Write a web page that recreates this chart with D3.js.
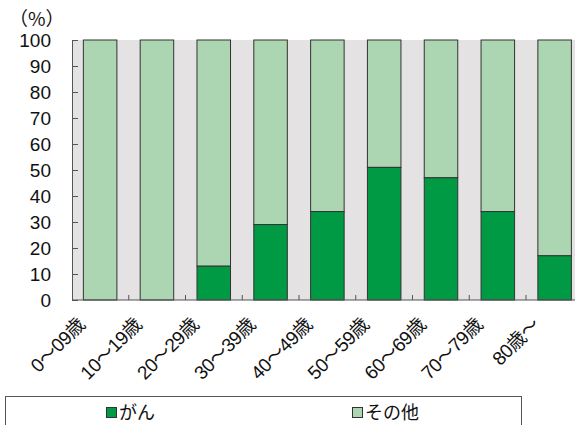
<!DOCTYPE html>
<html>
<head>
<meta charset="utf-8">
<script src="https://cdn.jsdelivr.net/npm/d3@7"></script>
<style>
body { margin: 0; background: #fff; }
text { font-family: "Liberation Sans", Arial, "Noto Sans CJK JP", sans-serif; fill: #111; }
</style>
</head>
<body>
<script>
"use strict";

var ages = ["0～09歳", "10～19歳", "20～29歳", "30～39歳", "40～49歳", "50～59歳", "60～69歳", "70～79歳", "80歳～"];
var cancer = [0, 0, 13, 29, 34, 51, 47, 34, 17];
var other = [100, 100, 87, 71, 66, 49, 53, 66, 83];
var yTicks = [0, 10, 20, 30, 40, 50, 60, 70, 80, 90, 100];
var seriesNames = ["がん", "その他"];
var colors = ["#009a44", "#acd6b1"];

var svg = d3.select("body").append("svg")
	.attr("width", 575)
	.attr("height", 425);

var plotLeft = 72, plotTop = 40, plotBottom = 300;
var step = 56.75;

var x = d3.scaleBand()
	.domain(ages)
	.range([plotLeft, plotLeft + step * ages.length])
	.paddingInner(0.41)
	.paddingOuter(0.2);

var y = d3.scaleLinear()
	.domain([0, 100])
	.range([plotBottom, plotTop]);

// gray plot background
svg.append("rect")
	.attr("x", plotLeft)
	.attr("y", plotTop)
	.attr("width", 575 - plotLeft)
	.attr("height", plotBottom - plotTop)
	.attr("fill", "#e4e2e3");

// stacked bars
var stacked = ages.map(function (a, i) {
	return { age: a, cancer: cancer[i], other: other[i] };
});

var g = svg.append("g");
stacked.forEach(function (d) {
	g.append("rect")
		.attr("x", x(d.age))
		.attr("width", x.bandwidth())
		.attr("y", y(d.cancer + d.other))
		.attr("height", y(d.cancer) - y(d.cancer + d.other))
		.attr("fill", colors[1])
		.attr("stroke", "#333")
		.attr("stroke-width", 1);
	if (d.cancer > 0) {
		g.append("rect")
			.attr("x", x(d.age))
			.attr("width", x.bandwidth())
			.attr("y", y(d.cancer))
			.attr("height", y(0) - y(d.cancer))
			.attr("fill", colors[0])
			.attr("stroke", "#333")
			.attr("stroke-width", 1);
	}
});

// y axis
var yAxis = d3.axisLeft(y)
	.tickValues(yTicks)
	.tickSize(-6)
	.tickPadding(21);

var yg = svg.append("g")
	.attr("transform", "translate(" + plotLeft + ",0)")
	.call(yAxis);
yg.select(".domain").attr("stroke", "#555");
yg.selectAll(".tick line").attr("stroke", "#555");
yg.selectAll(".tick text")
	.style("font-size", "19px")
	.attr("fill", "#111");

svg.append("text")
	.attr("x", 9)
	.attr("y", 26)
	.style("font-size", "19px")
	.style("font-family", "'Noto Sans CJK JP', sans-serif")
	.text("（%）");

// bottom axis line and boundary ticks
svg.append("line")
	.attr("x1", plotLeft).attr("x2", 575)
	.attr("y1", plotBottom).attr("y2", plotBottom)
	.attr("stroke", "#555");

ages.forEach(function (a, i) {
	if (i === 0) return;
	var bx = plotLeft + step * i;
	svg.append("line")
		.attr("x1", bx).attr("x2", bx)
		.attr("y1", plotBottom).attr("y2", plotBottom - 5)
		.attr("stroke", "#555");
});

// x labels
ages.forEach(function (a) {
	var cx = x(a) + x.bandwidth() / 2;
	svg.append("text")
		.attr("transform", "translate(" + (cx - 14) + "," + (plotBottom + 26) + ") rotate(-45)")
		.attr("text-anchor", "end")
		.style("font-size", "19px")
		.style("letter-spacing", "-0.5px")
		.text(a);
});

// legend
svg.append("rect")
	.attr("x", 5.5)
	.attr("y", 396.5)
	.attr("width", 516)
	.attr("height", 40)
	.attr("fill", "#fff")
	.attr("stroke", "#555");

var legendX = [106, 352];
seriesNames.forEach(function (n, i) {
	svg.append("rect")
		.attr("x", legendX[i] + 0.5)
		.attr("y", 407.5)
		.attr("width", 10)
		.attr("height", 10)
		.attr("fill", colors[i])
		.attr("stroke", "#333");
	svg.append("text")
		.attr("x", legendX[i] + 13)
		.attr("y", 419)
		.style("font-size", "18px")
		.text(n);
});
</script>
</body>
</html>
